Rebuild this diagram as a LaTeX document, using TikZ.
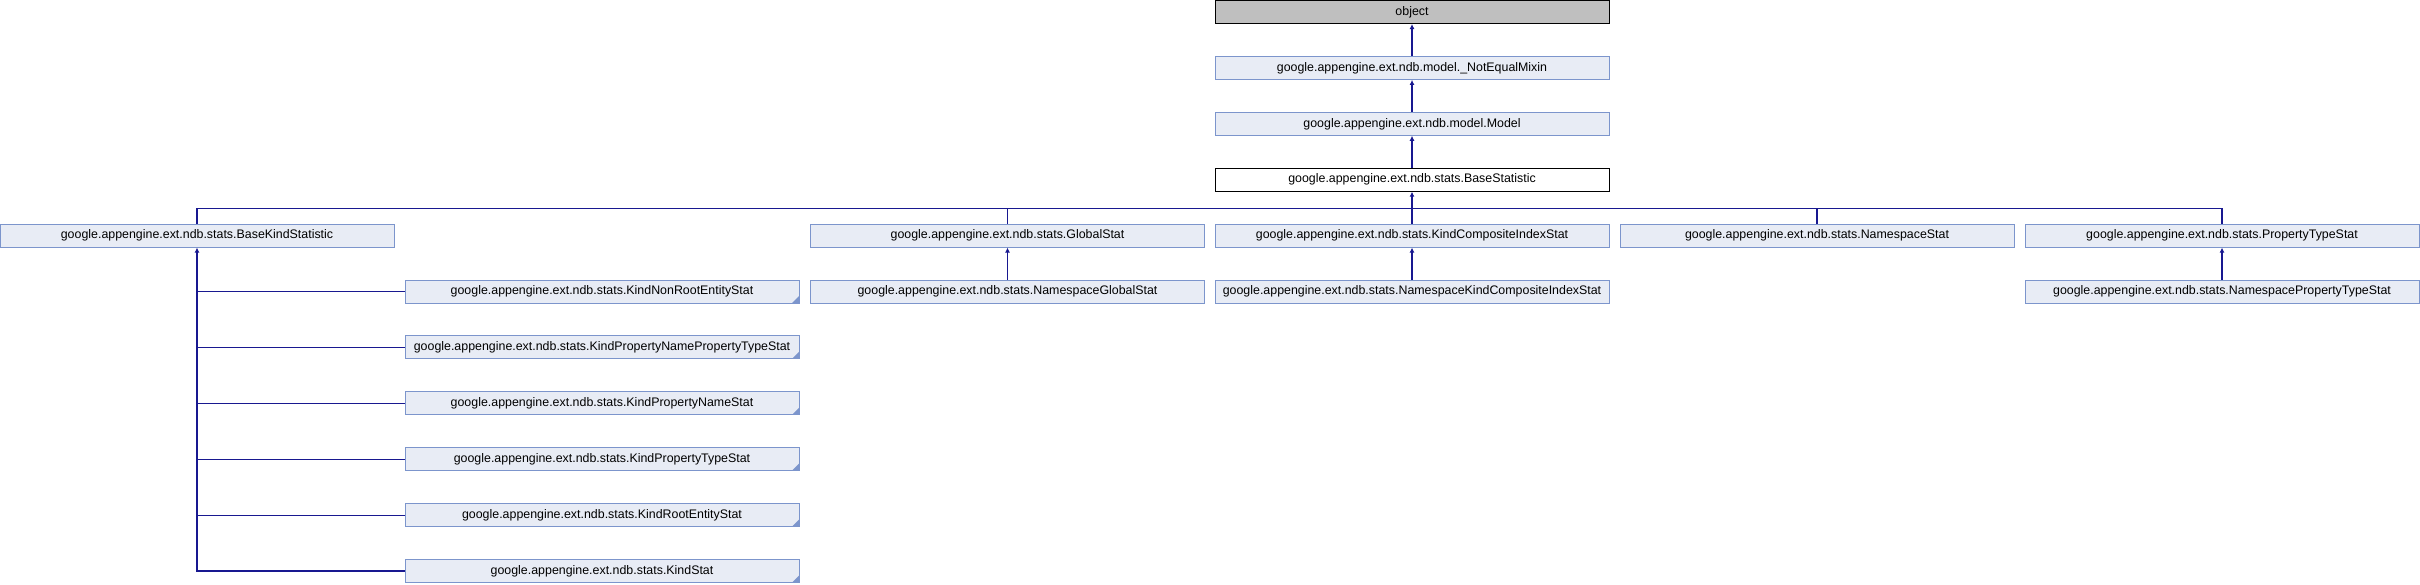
\documentclass[tikz,border=0pt]{standalone}
\usepackage{fontspec}
\setmainfont{Liberation Sans}
\usetikzlibrary{arrows.meta,calc}
\definecolor{boxfill}{RGB}{232,236,245}
\definecolor{boxline}{RGB}{124,149,204}
\definecolor{edge}{RGB}{24,24,144}
\definecolor{objfill}{RGB}{191,191,191}
\tikzset{
  cls/.style={draw=boxline, fill=boxfill, line width=1pt, minimum width=394pt, minimum height=23pt, inner sep=0pt, font=\fontsize{12.4}{14}\selectfont},
  objbox/.style={cls, draw=black, fill=objfill},
  curbox/.style={cls, draw=black, fill=white},
  trunc/.style={cls, path picture={\fill[boxline] (path picture bounding box.south east) -- ++(-7pt,0) -- ++(7pt,7pt) -- cycle;}},
  edgeline/.style={draw=edge, line width=1.2pt},
  inh/.style={edgeline, {Latex[length=5pt,width=5pt]}-}
}
\begin{document}
\begin{tikzpicture}[x=1pt,y=-1pt]
\useasboundingbox (0,0) rectangle (2420,584);
% rows: center y = 12 + 55.9*i ; cols: center x = 197 + 405*c
\node[objbox] (obj) at (1412,12) {object};
\node[cls] (neq) at (1412,67.9) {google.appengine.ext.ndb.model.\_NotEqualMixin};
\node[cls] (model) at (1412,123.8) {google.appengine.ext.ndb.model.Model};
\node[curbox] (bs) at (1412,179.7) {google.appengine.ext.ndb.stats.BaseStatistic};
% row 4
\node[cls] (bks) at (197,235.6) {google.appengine.ext.ndb.stats.BaseKindStatistic};
\node[cls] (gs) at (1007.5,235.6) {google.appengine.ext.ndb.stats.GlobalStat};
\node[cls] (kcis) at (1412,235.6) {google.appengine.ext.ndb.stats.KindCompositeIndexStat};
\node[cls] (ns) at (1817,235.6) {google.appengine.ext.ndb.stats.NamespaceStat};
\node[cls] (pts) at (2222,235.6) {google.appengine.ext.ndb.stats.PropertyTypeStat};
% row 5
\node[trunc] (knr) at (602,291.5) {google.appengine.ext.ndb.stats.KindNonRootEntityStat};
\node[cls] (ngs) at (1007.5,291.5) {google.appengine.ext.ndb.stats.NamespaceGlobalStat};
\node[cls] (nkcis) at (1412,291.5) {google.appengine.ext.ndb.stats.NamespaceKindCompositeIndexStat};
\node[cls] (npts) at (2222,291.5) {google.appengine.ext.ndb.stats.NamespacePropertyTypeStat};
% column 1
\node[trunc] (kpnpt) at (602,347.4) {google.appengine.ext.ndb.stats.KindPropertyNamePropertyTypeStat};
\node[trunc] (kpn) at (602,403.3) {google.appengine.ext.ndb.stats.KindPropertyNameStat};
\node[trunc] (kpt) at (602,459.2) {google.appengine.ext.ndb.stats.KindPropertyTypeStat};
\node[trunc] (kre) at (602,515.1) {google.appengine.ext.ndb.stats.KindRootEntityStat};
\node[trunc] (ks) at (602,571) {google.appengine.ext.ndb.stats.KindStat};
% edges
\draw[inh] (obj.south) -- (neq.north);
\draw[inh] (neq.south) -- (model.north);
\draw[inh] (model.south) -- (bs.north);
\coordinate (bus) at ($(bs.south)+(0,17)$);
\draw[inh] (bs.south) -- (bus);
\draw[edgeline] (bks.north) |- (bus) -| (pts.north);
\foreach \c in {gs,kcis,ns}{
  \draw[edgeline] (\c.north) -- (\c.north |- bus);
}
\draw[inh] (gs.south) -- (ngs.north);
\draw[inh] (kcis.south) -- (nkcis.north);
\draw[inh] (pts.south) -- (npts.north);
\draw[inh] (bks.south) |- (ks.west);
\foreach \c in {knr,kpnpt,kpn,kpt,kre}{
  \draw[edgeline] (\c.west) -- (\c.west -| bks.south);
}
\end{tikzpicture}
\end{document}
